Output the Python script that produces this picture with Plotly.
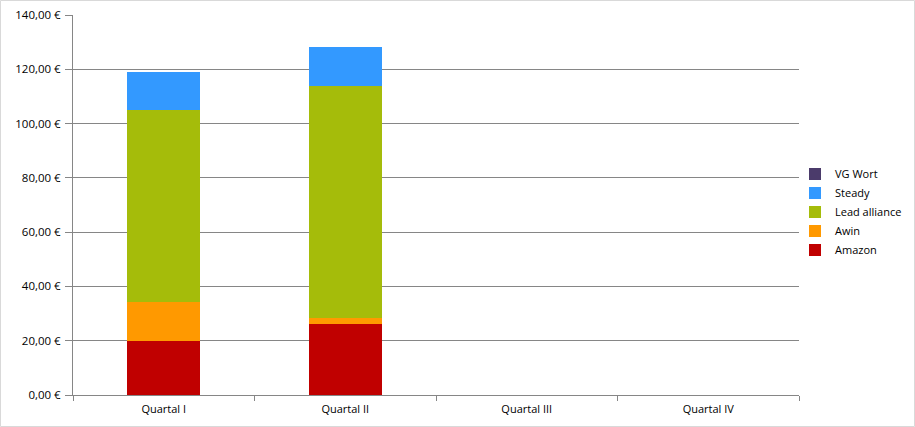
import plotly.graph_objects as go

categories = ["Quartal I", "Quartal II", "Quartal III", "Quartal IV"]
amazon = [20.0, 26.3, None, None]
awin = [14.3, 2.1, None, None]
lead_alliance = [70.7, 85.6, None, None]
steady = [14.0, 14.2, None, None]
vg_wort = [0, 0, None, None]

tick_vals = [0, 20, 40, 60, 80, 100, 120, 140]
tick_text = ["0,00 €", "20,00 €", "40,00 €", "60,00 €", "80,00 €", "100,00 €", "120,00 €", "140,00 €"]

series = [
    ("Amazon", amazon, "#c00000"),
    ("Awin", awin, "#ff9900"),
    ("Lead alliance", lead_alliance, "#a5bc0a"),
    ("Steady", steady, "#3399ff"),
    ("VG Wort", vg_wort, "#4b3b6b"),
]

fig = go.Figure()
for name, vals, color in series:
    fig.add_trace(go.Bar(x=categories, y=vals, name=name, marker=dict(color=color, line=dict(width=0))))

W, H = 915, 427
L, R, T, B = 73, 116, 15, 32
pw = W - L - R
ph = H - T - B

fig.update_layout(
    width=W, height=H,
    margin=dict(l=L, r=R, t=T, b=B, pad=0, autoexpand=False),
    barmode="stack",
    bargap=0.6,
    paper_bgcolor="white",
    plot_bgcolor="white",
    font=dict(family="Open Sans, DejaVu Sans, sans-serif", size=11, color="#000000"),
    showlegend=True,
    legend=dict(
        traceorder="reversed",
        xref="container", yref="container",
        x=795 / W, xanchor="left",
        y=1 - 212 / H, yanchor="middle",
        font=dict(size=11),
        itemwidth=30,
        bgcolor="rgba(0,0,0,0)",
    ),
    xaxis=dict(
        type="category",
        automargin=False,
        tickson="boundaries",
        ticks="outside",
        ticklen=5,
        tickcolor="#868686",
        showline=True,
        linecolor="#868686",
        linewidth=1,
        showgrid=False,
        tickfont=dict(size=11),
        ticklabelstandoff=4,
        range=[-0.5, 3.5],
    ),
    yaxis=dict(
        automargin=False,
        range=[0, 140],
        tickvals=tick_vals,
        ticktext=tick_text,
        ticks="outside",
        ticklen=7,
        tickcolor="#868686",
        showline=True,
        linecolor="#868686",
        linewidth=1,
        showgrid=True,
        gridcolor="#868686",
        gridwidth=1,
        zeroline=False,
        tickfont=dict(size=11.5),
        ticklabelstandoff=2,
    ),
    shapes=[
        dict(type="rect", xref="paper", yref="paper",
             x0=(0.5 - L) / pw, x1=(W - 0.5 - L) / pw,
             y0=-(B - 0.5) / ph,
             y1=1 + (T - 0.5) / ph,
             line=dict(color="#d9d9d9", width=1), fillcolor="rgba(0,0,0,0)", layer="below"),
    ],
)

fig.write_html(
    "out.html",
    config={"displayModeBar": False},
    post_script="document.body.style.margin='0';document.body.style.overflow='hidden';",
)
